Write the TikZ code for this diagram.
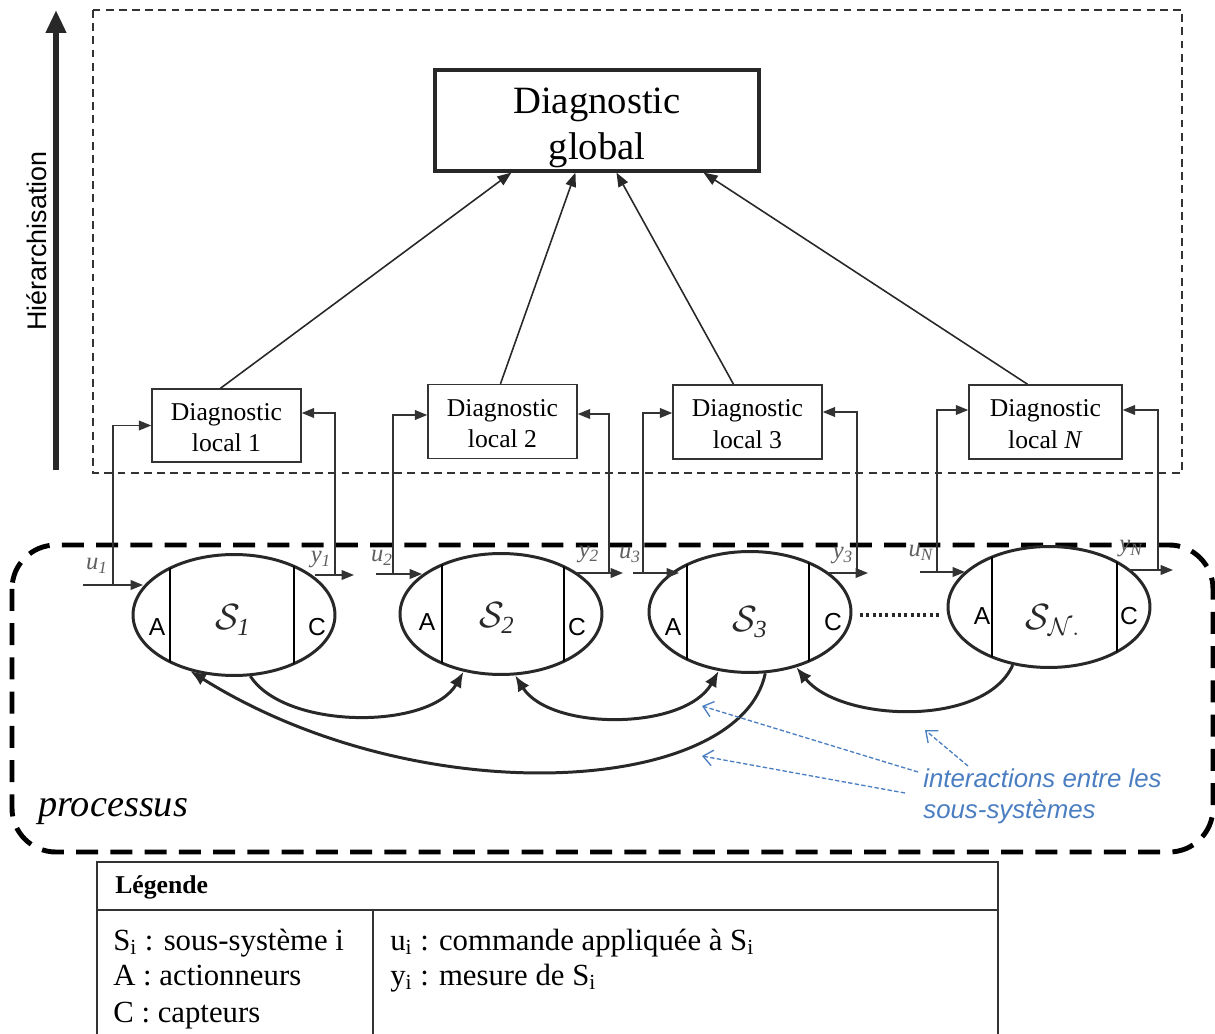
\documentclass[tikz,border=0pt]{standalone}
\usepackage{fontspec}
\setmainfont{Liberation Serif}
\setsansfont{Liberation Sans}
\usetikzlibrary{arrows.meta,shapes.geometric}
\newlength\pxu \setlength\pxu{0.02cm}
\definecolor{dk}{RGB}{40,40,40}
\definecolor{ln}{RGB}{51,51,51}
\definecolor{lbl}{RGB}{95,95,95}
\definecolor{blu}{RGB}{74,126,193}
\begin{document}
\begin{tikzpicture}[x=0.02cm,y=-0.02cm,
  lbox/.style={draw=ln, line width=0.85pt, align=center, inner sep=0pt,
    minimum width=2.98cm, minimum height=1.48cm, font=\fontsize{14.6}{18.1}\selectfont},
  gbox/.style={draw=dk, line width=1.8pt, align=center, inner sep=0pt,
    minimum width=6.48cm, minimum height=2.02cm, font=\fontsize{22}{26.6}\selectfont},
  sys/.style={ellipse, draw=dk, line width=1.7pt, minimum width=4.04cm, minimum height=2.42cm, inner sep=0pt},
  chord/.style={draw=black, line width=0.9pt},
  fb/.style={draw=ln, line width=0.85pt, -{Triangle[length=7pt,width=5.5pt]}},
  fbl/.style={draw=ln, line width=0.85pt},
  garr/.style={draw=dk, line width=0.9pt, -{Triangle[length=8pt,width=6pt]}},
  inter/.style={draw=dk, line width=1.7pt},
  tipL/.style={-{Latex[length=9pt,width=7.5pt]}},
  bluarr/.style={draw=blu, line width=0.75pt, dash pattern=on 2.5pt off 1.3pt, -{Straight Barb[length=5.5pt,width=9pt]}},
  uy/.style={text=lbl, inner sep=0pt, font=\itshape\fontsize{14}{16}\selectfont},
  ac/.style={inner sep=0pt, font=\sffamily\fontsize{14}{16}\selectfont},
  slab/.style={inner sep=0pt, text=dk, font=\fontsize{20}{24}\selectfont},
  legt/.style={anchor=base west, inner sep=0pt, font=\fontsize{17.5}{20.5}\selectfont},
]
\useasboundingbox (0,0) rectangle (1215,1034);

% frames
\draw[draw=ln, line width=0.75pt, dash pattern=on 4.5pt off 3pt] (93,10) rectangle (1182,473);
\draw[line width=2.8pt, dash pattern=on 12.5pt off 7pt, rounded corners=25pt] (12,545) rectangle (1213,852);

% hierarchy arrow
\coordinate (hA) at (56,470);
\coordinate (hB) at (56,10);
\draw[draw=dk, line width=3.4pt, -{Triangle[length=13pt,width=11pt]}] (hA) -- (hB);
\node[rotate=90, inner sep=0pt, font=\sffamily\fontsize{15.3}{18}\selectfont] (hier) at (37,241) {Hiérarchisation};

% global and local diagnosis
\node[gbox] (G) at (597,120.5) {\rule{0pt}{23pt}Diagnostic\\global};
\node[lbox, minimum height=1.46cm] (L1) at (226.5,425.5) {\rule{0pt}{12pt}Diagnostic\\local 1};
\node[lbox] (L2) at (502.5,421.5) {\rule{0pt}{12pt}Diagnostic\\local 2};
\node[lbox] (L3) at (747.5,422) {\rule{0pt}{12pt}Diagnostic\\local 3};
\node[lbox, minimum width=3.06cm] (LN) at (1045.5,422) {\rule{0pt}{12pt}Diagnostic\\local \textit{N}};

\draw[garr] ([xshift=-6\pxu]L1.north) -- ([xshift=78\pxu]G.south west);
\draw[garr] ([xshift=-2\pxu]L2.north) -- ([xshift=142\pxu]G.south west);
\draw[garr] ([xshift=-14\pxu]L3.north) -- ([xshift=183\pxu]G.south west);
\draw[garr] ([xshift=-18\pxu]LN.north) -- ([xshift=270\pxu]G.south west);

% subsystems
\node[sys] (S1) at (234,615) {};
\node[sys] (S2) at (501,614) {};
\node[sys] (S3) at (750,612) {};
\node[sys] (SN) at (1049,607) {};

\begin{scope}
\clip (S1.center) ellipse [x radius=2.02cm, y radius=1.21cm];
\draw[chord] (170,520) -- (170,700); \draw[chord] (294,520) -- (294,700);
\end{scope}
\begin{scope}
\clip (S2.center) ellipse [x radius=2.02cm, y radius=1.21cm];
\draw[chord] (442,520) -- (442,700); \draw[chord] (564,520) -- (564,700);
\end{scope}
\begin{scope}
\clip (S3.center) ellipse [x radius=2.02cm, y radius=1.21cm];
\draw[chord] (687,520) -- (687,700); \draw[chord] (809,520) -- (809,700);
\end{scope}
\begin{scope}
\clip (SN.center) ellipse [x radius=2.02cm, y radius=1.21cm];
\draw[chord] (992,520) -- (992,700); \draw[chord] (1117,520) -- (1117,700);
\end{scope}

\node[ac] (A1) at (157,627) {A};  \node[ac] (C1) at (317,627) {C};
\node[ac] (A2) at (427,622) {A};  \node[ac] (C2) at (577,627) {C};
\node[ac] (A3) at (673,627) {A};  \node[ac] (C3) at (833,622) {C};
\node[ac] (AN) at (982,616) {A};  \node[ac] (CN) at (1129,616) {C};

\node[slab] (S1t) at (233,620) {$\mathcal{S}_{\mathit{1}}$};
\node[slab] (S2t) at (497,618) {$\mathcal{S}_{\mathit{2}}$};
\node[slab] (S3t) at (750,622) {$\mathcal{S}_{\mathit{3}}$};
\node[slab] (SNt) at (1053,620) {$\mathcal{S}_{\mathcal{N}.}$};

% dotted link
\coordinate (dA) at (860,615);
\coordinate (dB) at (940,615);
\draw[draw=dk, line width=1.8pt, dash pattern=on 1.8pt off 1.8pt] (dA) -- (dB);

% inputs / outputs
\coordinate (u1a) at (83,585);  \coordinate (u1b) at (143,585); \coordinate (u1c) at (113,585);
\coordinate (y1a) at (315,575); \coordinate (y1b) at (354,575); \coordinate (y1c) at (335,575);
\coordinate (u2a) at (376,574); \coordinate (u2b) at (422,574); \coordinate (u2c) at (393,574);
\coordinate (y2a) at (577,573); \coordinate (y2b) at (623,573); \coordinate (y2c) at (609,573);
\coordinate (u3a) at (633,573); \coordinate (u3b) at (679,573); \coordinate (u3c) at (643,573);
\coordinate (y3a) at (828,573); \coordinate (y3b) at (868,573); \coordinate (y3c) at (857,573);
\coordinate (uNa) at (920,572); \coordinate (uNb) at (965,572); \coordinate (uNc) at (937,572);
\coordinate (yNa) at (1128,570); \coordinate (yNb) at (1173,570); \coordinate (yNc) at (1158,570);

\draw[fb] (u1a) -- (u1b);  \draw[fb] (u1c) |- (L1.west);
\draw[fb] (y1a) -- (y1b);  \draw[fb] (y1c) |- ([yshift=12.5\pxu]L1.east);
\draw[fb] (u2a) -- (u2b);  \draw[fb] (u2c) |- ([yshift=6.5\pxu]L2.west);
\draw[fb] (y2a) -- (y2b);  \draw[fb] (y2c) |- ([yshift=7.5\pxu]L2.east);
\draw[fb] (u3a) -- (u3b);  \draw[fb] (u3c) |- ([yshift=9\pxu]L3.west);
\draw[fb] (y3a) -- (y3b);  \draw[fb] (y3c) |- ([yshift=10\pxu]L3.east);
\draw[fb] (uNa) -- (uNb);  \draw[fb] (uNc) |- ([yshift=12\pxu]LN.west);
\draw[fb] (yNa) -- (yNb);  \draw[fb] (yNc) |- ([yshift=12\pxu]LN.east);

\node[uy] (u1t) at (97,566) {u\textsubscript{1}};
\node[uy] (y1t) at (321,560) {y\textsubscript{1}};
\node[uy] (u2t) at (382,558) {u\textsubscript{2}};
\node[uy] (y2t) at (589,555) {y\textsubscript{2}};
\node[uy] (u3t) at (630,555) {u\textsubscript{3}};
\node[uy] (y3t) at (843,556) {y\textsubscript{3}};
\node[uy] (uNt) at (921,553) {u\textsubscript{N}};
\node[uy] (yNt) at (1131,549) {y\textsubscript{N}};

% interactions
\draw[inter, tipL] (S1.-75) .. controls (285,730) and (430,730) .. (S2.-123);
\draw[inter, {Latex[length=9pt,width=7.5pt]}-{Latex[length=9pt,width=7.5pt]}] (S2.-77) .. controls (550,731) and (685,731) .. (S3.-118);
\draw[inter, tipL] (S3.-76) .. controls (740,795) and (420,815) .. (S1.-128);
\draw[inter, tipL] (SN.-122) .. controls (985,728) and (840,722) .. (S3.-50);

% blue annotation
\node[anchor=west, inner sep=0pt, align=left, text=blu,
  font=\sffamily\itshape\fontsize{14.7}{17.6}\selectfont] (itxt) at (923,796) {interactions entre les\\sous-systèmes};
\coordinate (b1a) at (968,766); \coordinate (b1b) at (925,730);
\coordinate (b2a) at (918,772); \coordinate (b2b) at (702,706);
\coordinate (b3a) at (905,793); \coordinate (b3b) at (702,756);
\draw[bluarr] (b1a) -- (b1b);
\draw[bluarr] (b2a) -- (b2b);
\draw[bluarr] (b3a) -- (b3b);

\node[anchor=west, inner sep=0pt, font=\itshape\fontsize{21.8}{26}\selectfont] (proc) at (38,812) {processus};

% legend
\draw[fbl] (97,1034) -- (97,862) -- (998,862) -- (998,1034);
\draw[fbl] (97,910) -- (998,910);
\draw[fbl] (373,910) -- (373,1034);
\node[anchor=west, inner sep=0pt, font=\bfseries\fontsize{14.6}{17}\selectfont] (leg) at (115,887) {Légende};
\node[legt] (lg1) at (113,950) {S\textsubscript{i} : sous-système i};
\node[legt] (lg2) at (113,985) {A : actionneurs};
\node[legt] (lg3) at (113,1022) {C : capteurs};
\node[legt] (lg4) at (390,950) {u\textsubscript{i} : commande appliquée à S\textsubscript{i}};
\node[legt] (lg5) at (390,985) {y\textsubscript{i} : mesure de S\textsubscript{i}};
\end{tikzpicture}
\end{document}
